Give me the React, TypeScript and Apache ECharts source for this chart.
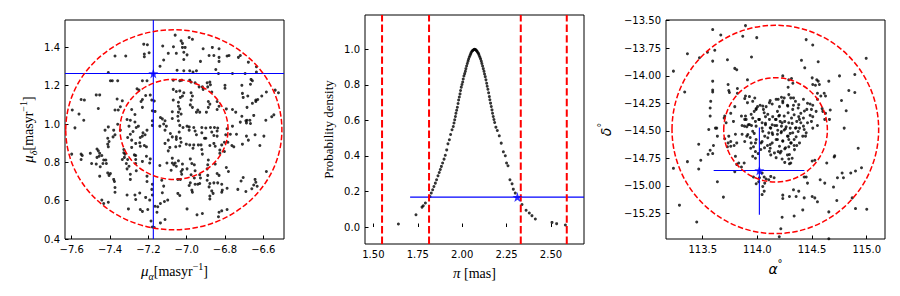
import React, { useEffect, useRef } from "react";
import * as echarts from "echarts";

// ---------- axis ranges & ticks ----------
const p1XRange = [-7.635, -6.492];
const p1YRange = [0.4, 1.543];
const p1XTicks = [-7.6, -7.4, -7.2, -7.0, -6.8, -6.6];
const p1YTicks = [0.4, 0.6, 0.8, 1.0, 1.2, 1.4];

const p2XRange = [1.453, 2.686];
const p2YRange = [-0.0955, 1.193];
const p2XTicks = [1.5, 1.75, 2.0, 2.25, 2.5];
const p2YTicks = [0.0, 0.2, 0.4, 0.6, 0.8, 1.0];

const p3XRange = [113.164, 115.167];
const p3YRange = [-15.481, -13.494];
const p3XTicks = [113.5, 114.0, 114.5, 115.0];
const p3YTicks = [-15.25, -15.0, -14.75, -14.5, -14.25, -14.0, -13.75, -13.5];

// ---------- panel 1: proper motion ----------
const p1Points = [
  [-7.224,1.417],[-7.205,1.414],[-7.221,1.365],[-7.221,1.351],[-7.196,1.372],[-7.374,1.355],[-7.318,1.355],[-7.125,1.407],[-7.096,1.369],[-7.12,1.334],[-7.139,1.302],[-7.069,1.403],[-7.409,1.269],[-7.398,1.226],[-7.388,1.226],[-7.36,1.226],[-7.231,1.226],[-7.207,1.226],[-7.214,1.149],[-7.231,1.128],[-7.19,1.151],[-7.259,1.184],[-7.249,1.177],[-7.182,1.125],[-7.169,1.12],[-7.472,1.152],[-7.454,1.152],[-7.551,1.128],[-7.534,1.125],[-7.363,1.131],[-7.336,1.121],[-7.346,1.09],[-7.461,1.081],[-7.597,1.073],[-7.374,1.073],[-7.357,1.073],[-7.562,1.052],[-7.537,1.02],[-7.409,0.985],[-7.36,0.999],[-7.238,1.118],[-7.231,1.087],[-7.179,1.069],[-7.165,1.066],[-7.287,1.076],[-7.27,1.05],[-7.294,1.02],[-7.311,1.024],[-7.301,0.989],[-7.27,1.011],[-7.252,0.989],[-7.263,0.982],[-7.137,1.034],[-7.127,1.027],[-7.113,1.017],[-7.12,1.0],[-7.14,0.989],[-7.106,0.989],[-7.179,1.017],[-7.179,0.993],[-7.075,1.064],[-7.075,1.029],[-7.07,1.125],[-7.07,1.181],[-7.07,1.229],[-7.583,0.98],
  [-7.06,1.464],[-7.029,1.434],[-7.022,1.421],[-7.008,1.4],[-7.022,1.4],[-6.987,1.452],[-6.97,1.442],[-7.015,1.375],[-6.998,1.361],[-7.054,1.369],[-7.015,1.337],[-6.914,1.393],[-6.866,1.4],[-6.831,1.393],[-6.883,1.358],[-6.858,1.358],[-6.831,1.348],[-6.831,1.327],[-6.928,1.327],[-6.789,1.355],[-6.779,1.358],[-6.73,1.348],[-6.72,1.358],[-6.678,1.323],[-6.636,1.299],[-6.636,1.271],[-7.05,1.281],[-7.015,1.278],[-6.984,1.278],[-6.949,1.278],[-6.967,1.271],[-6.848,1.285],[-6.834,1.264],[-6.761,1.264],[-6.695,1.264],[-7.036,1.226],[-7.026,1.229],[-6.984,1.229],[-6.977,1.219],[-6.956,1.215],[-6.893,1.215],[-6.879,1.219],[-6.876,1.205],[-6.89,1.194],[-6.935,1.194],[-6.918,1.194],[-6.914,1.181],[-7.054,1.17],[-7.036,1.173],[-7.015,1.163],[-7.022,1.146],[-7.033,1.139],[-6.977,1.163],[-6.97,1.146],[-6.869,1.167],[-6.8,1.202],[-6.8,1.187],[-6.712,1.202],[-6.667,1.208],[-6.664,1.233],[-6.657,1.226],[-6.709,1.16],[-6.705,1.139],[-6.681,1.146],[-6.639,1.125],[-6.629,1.128],[-6.608,1.146],[-6.584,1.167],[-6.538,1.177],[-6.521,1.163],[-7.043,1.114],[-7.043,1.093],[-7.036,1.079],[-7.043,1.062],[-7.029,1.052],[-7.046,1.041],[-6.977,1.125],[-6.981,1.1],[-6.97,1.087],[-6.942,1.073],[-6.949,1.062],[-6.932,1.062],[-6.887,1.118],[-6.879,1.104],[-6.887,1.087],[-6.841,1.118],[-6.831,1.093],[-6.841,1.076],[-6.897,1.062],[-6.793,1.079],[-6.761,1.076],[-6.744,1.062],[-6.685,1.087],[-6.657,1.108],[-6.639,1.118],[-6.712,1.041],[-6.685,1.02],[-6.691,1.017],[-6.67,1.02],[-6.65,1.045],[-6.587,1.02],[-6.556,1.038],[-6.545,1.048],[-7.043,1.017],[-7.036,0.993],[-6.998,0.989],[-6.987,0.985],[-7.019,0.982],[-6.963,0.982],[-6.921,0.982],[-6.9,0.979],[-6.876,0.982],[-6.855,0.982],[-6.838,0.979],[-6.789,0.975],[-6.761,0.989],[-6.72,1.01],[-6.688,1.006],[-6.667,1.003],
  [-7.6,0.843],[-7.551,0.843],[-7.545,0.836],[-7.551,0.815],[-7.503,0.847],[-7.468,0.87],[-7.461,0.86],[-7.454,0.847],[-7.443,0.836],[-7.457,0.832],[-7.468,0.826],[-7.496,0.794],[-7.472,0.791],[-7.451,0.777],[-7.454,0.728],[-7.433,0.812],[-7.422,0.812],[-7.437,0.794],[-7.419,0.794],[-7.412,0.926],[-7.405,0.909],[-7.412,0.895],[-7.409,0.881],[-7.381,0.968],[-7.374,0.944],[-7.384,0.933],[-7.412,0.745],[-7.398,0.742],[-7.405,0.732],[-7.381,0.711],[-7.377,0.7],[-7.374,0.669],[-7.374,0.644],[-7.336,0.815],[-7.325,0.826],[-7.308,0.815],[-7.315,0.794],[-7.301,0.78],[-7.311,0.766],[-7.328,0.85],[-7.322,0.843],[-7.328,0.867],[-7.287,0.878],[-7.273,0.839],[-7.308,0.93],[-7.294,0.947],[-7.28,0.961],[-7.287,0.916],[-7.266,0.899],[-7.242,0.93],[-7.231,0.937],[-7.217,0.944],[-7.228,0.954],[-7.245,0.902],[-7.242,0.884],[-7.221,0.888],[-7.21,0.881],[-7.21,0.832],[-7.19,0.818],[-7.193,0.797],[-7.231,0.805],[-7.263,0.756],[-7.294,0.738],[-7.294,0.711],[-7.207,0.728],[-7.207,0.7],[-7.179,0.686],[-7.182,0.659],[-7.311,0.63],[-7.27,0.63],[-7.245,0.64],[-7.266,0.606],[-7.179,0.63],[-7.214,0.617],[-7.304,0.557],[-7.242,0.554],[-7.231,0.544],[-7.203,0.554],[-7.165,0.571],[-7.151,0.568],[-7.155,0.54],[-7.137,0.585],[-7.116,0.596],[-7.099,0.603],[-7.193,0.603],[-7.186,0.494],[-7.169,0.46],[-7.179,0.463],[-7.137,0.484],[-7.113,0.502],[-7.443,0.603],[-7.433,0.585],[-7.409,0.592],[-7.426,0.968],[-7.346,0.968],[-7.207,0.968],[-7.113,0.968],[-7.096,0.916],[-7.085,0.951],[-7.113,0.899],[-7.096,0.86],[-7.103,0.797],[-7.075,0.797],[-7.067,0.787],[-7.081,0.759],[-7.075,0.822],[-7.075,0.933],[-7.088,0.878],[-7.14,0.784],[-7.13,0.707],[-7.12,0.676],[-7.127,0.641],[-7.266,0.836],[-7.266,0.815],[-7.266,0.794],
  [-7.054,0.933],[-7.054,0.92],[-7.033,0.926],[-7.029,0.905],[-7.057,0.881],[-7.036,0.885],[-7.039,0.958],[-6.987,0.968],[-6.956,0.964],[-6.949,0.944],[-6.921,0.954],[-6.9,0.926],[-6.907,0.926],[-6.858,0.94],[-6.841,0.937],[-6.869,0.958],[-6.841,0.964],[-7.002,0.895],[-6.984,0.891],[-6.963,0.891],[-6.939,0.891],[-6.925,0.891],[-6.967,0.874],[-6.921,0.867],[-6.918,0.843],[-6.858,0.899],[-6.851,0.884],[-6.879,0.888],[-6.827,0.864],[-6.827,0.847],[-6.803,0.857],[-6.817,0.891],[-6.803,0.905],[-6.796,0.944],[-6.772,0.947],[-6.74,0.947],[-6.688,0.937],[-6.785,0.905],[-6.764,0.888],[-6.754,0.881],[-6.709,0.895],[-6.678,0.916],[-6.643,0.944],[-6.618,0.888],[-6.597,0.937],[-7.06,0.797],[-7.054,0.78],[-7.043,0.808],[-7.022,0.791],[-7.022,0.763],[-7.029,0.752],[-7.026,0.738],[-7.033,0.711],[-7.046,0.711],[-6.998,0.766],[-6.981,0.818],[-6.973,0.794],[-6.96,0.787],[-6.956,0.756],[-6.977,0.735],[-6.96,0.718],[-6.932,0.735],[-6.928,0.718],[-6.981,0.693],[-6.987,0.679],[-6.973,0.655],[-6.97,0.644],[-7.046,0.638],[-7.036,0.627],[-6.932,0.69],[-6.956,0.686],[-6.942,0.686],[-6.887,0.812],[-6.89,0.787],[-6.893,0.766],[-6.851,0.791],[-6.89,0.732],[-6.879,0.69],[-6.883,0.672],[-6.893,0.707],[-6.858,0.693],[-6.862,0.638],[-6.879,0.624],[-6.879,0.609],[-6.869,0.651],[-6.841,0.742],[-6.831,0.732],[-6.838,0.693],[-6.817,0.686],[-6.814,0.655],[-6.817,0.644],[-6.789,0.665],[-6.793,0.773],[-6.782,0.752],[-6.733,0.659],[-6.691,0.648],[-6.716,0.703],[-6.705,0.721],[-6.65,0.682],[-6.639,0.696],[-6.632,0.675],[-6.643,0.711],[-6.66,0.662],[-6.584,0.752],[-6.998,0.557],[-6.946,0.526],[-6.918,0.533],[-6.831,0.54],[-6.817,0.547],[-6.789,0.554],[-6.834,0.516],
];
// rings: [centre x, centre y, radius x, radius y]
const p1Rings = [
  [-7.066, 0.972, 0.282, 0.261],
  [-7.067, 0.970, 0.564, 0.522],
];
const p1Star = [-7.174, 1.264];
// blue guide segments: [x1, y1, x2, y2]
const p1Guides = [
  [-7.174, 0.4, -7.174, 1.543],
  [-7.635, 1.264, -6.492, 1.264],
];

// ---------- panel 2: parallax ----------
const p2Points = [
  [1.641,0.017],[1.74,0.069],[1.774,0.112],[1.781,0.12],[1.793,0.135],[1.819,0.172],[1.826,0.191],[1.834,0.21],[1.841,0.228],[1.849,0.247],[1.856,0.266],[1.864,0.288],[1.871,0.307],[1.877,0.324],[1.883,0.341],[1.89,0.36],[1.898,0.382],[1.905,0.404],[1.913,0.434],[1.92,0.468],[1.928,0.491],[1.935,0.521],[1.943,0.547],[1.95,0.566],[1.954,0.585],[1.958,0.603],[1.962,0.622],[1.965,0.64],[1.969,0.657],[1.973,0.674],[1.977,0.695],[1.98,0.715],[1.984,0.732],[1.988,0.749],[1.991,0.768],[1.995,0.787],[1.999,0.802],[2.003,0.816],[2.006,0.833],[2.01,0.85],[2.014,0.863],[2.018,0.876],[2.021,0.891],[2.025,0.906],[2.029,0.92],[2.033,0.933],[2.036,0.944],[2.04,0.955],[2.044,0.965],[2.048,0.974],[2.051,0.982],[2.055,0.989],[2.059,0.993],[2.063,0.996],[2.067,0.999],[2.07,1.0],[2.074,0.999],[2.078,0.996],[2.081,0.992],[2.085,0.987],[2.089,0.981],[2.093,0.974],[2.096,0.965],[2.1,0.955],[2.104,0.945],[2.108,0.933],[2.111,0.92],[2.115,0.906],[2.119,0.891],[2.123,0.876],[2.126,0.861],[2.13,0.846],[2.134,0.828],[2.138,0.809],[2.141,0.792],[2.145,0.775],[2.149,0.755],[2.153,0.734],[2.156,0.716],[2.16,0.697],[2.164,0.678],[2.168,0.659],[2.171,0.64],[2.175,0.622],[2.179,0.605],[2.183,0.588],[2.19,0.562],[2.198,0.543],[2.209,0.513],[2.22,0.472],[2.232,0.423],[2.243,0.401],[2.25,0.36],[2.258,0.345],[2.269,0.266],[2.281,0.243],[2.288,0.213],[2.299,0.191],[2.337,0.127],[2.36,0.094],[2.378,0.079],[2.393,0.064],[2.412,0.045],[2.506,0.026],[2.532,0.019],[2.581,0.011],
];
const p2Bounds = [1.549, 1.8136, 2.33, 2.589];
const p2Star = [2.311, 0.1685];
const p2Guides = [[1.707, 0.1685, 2.686, 0.1685]];

// ---------- panel 3: position ----------
const p3Points = [
  [113.232,-13.958],[113.36,-13.8],[113.335,-14.147],[113.47,-13.837],[113.543,-13.787],[113.591,-13.581],[113.665,-13.63],[113.61,-13.769],[113.591,-13.867],[113.591,-14.049],[113.591,-14.129],[113.591,-14.147],[113.573,-14.232],[113.568,-14.293],[113.568,-14.366],[113.616,-14.475],[113.628,-14.475],[113.726,-13.855],[113.732,-14.079],[113.738,-14.134],[113.744,-14.152],[113.701,-14.366],[113.793,-13.933],[113.811,-13.946],[113.696,-14.384],[113.714,-14.426],[113.817,-14.116],[113.817,-14.159],[113.793,-14.28],[113.756,-14.341],[113.781,-14.414],[113.854,-14.366],[113.86,-14.451],[113.866,-13.641],[113.891,-13.545],[113.994,-13.654],[113.946,-13.83],[113.909,-14.037],[113.891,-14.183],[113.884,-14.207],[113.927,-14.189],[113.909,-14.244],[113.957,-14.232],[113.976,-14.202],[113.989,-14.298],[114.001,-14.28],[113.971,-14.323],[114.025,-14.268],[114.055,-14.305],[114.08,-14.28],[114.062,-14.335],[114.074,-14.371],[114.117,-14.225],[114.135,-14.256],[113.891,-14.366],[113.884,-14.396],[113.957,-14.384],[113.982,-14.414],[114.012,-14.396],[114.043,-14.426],[114.074,-14.444],[114.11,-14.396],[114.135,-14.444],[114.122,-14.475],[114.043,-14.475],[113.946,-14.451],[113.903,-14.463],[113.916,-14.444],
  [114.446,-13.672],[114.506,-13.721],[114.403,-13.86],[114.433,-13.928],[114.556,-13.873],[114.232,-14.001],[114.287,-14.037],[114.312,-14.025],[114.324,-14.068],[114.281,-14.104],[114.501,-14.019],[114.543,-14.037],[114.556,-14.049],[114.531,-14.086],[114.506,-14.079],[114.567,-14.079],[114.653,-14.049],[114.751,-14.001],[114.769,-14.225],[114.836,-14.134],[114.891,-14.152],[114.891,-13.988],[114.995,-13.842],[114.812,-14.317],[114.549,-14.159],[114.58,-14.183],[114.611,-14.159],[114.623,-14.183],[114.549,-14.214],[114.592,-14.298],[114.598,-14.323],[114.623,-14.341],[114.666,-14.311],[114.659,-14.396],[114.549,-14.451],[114.616,-14.396],[114.794,-14.475],
  [114.22,-14.195],[114.245,-14.201],[114.287,-14.171],[114.305,-14.201],[114.33,-14.201],[114.348,-14.232],[114.378,-14.262],[114.373,-14.293],[114.421,-14.214],[114.458,-14.25],[114.482,-14.256],[114.506,-14.268],[114.494,-14.305],[114.452,-14.305],[114.482,-14.359],[114.506,-14.371],[114.537,-14.323],[114.421,-14.384],[114.397,-14.341],[114.378,-14.371],[114.336,-14.353],[114.312,-14.384],[114.281,-14.335],[114.245,-14.366],[114.202,-14.28],[114.183,-14.323],[114.195,-14.366],[114.165,-14.396],[114.208,-14.414],[114.25,-14.414],[114.287,-14.426],[114.318,-14.432],[114.36,-14.414],[114.397,-14.426],[114.421,-14.457],[114.385,-14.475],[114.348,-14.475],[114.3,-14.475],[114.263,-14.463],[114.22,-14.457],[114.177,-14.451],[114.33,-14.268],[114.275,-14.268],[114.232,-14.244],[114.458,-14.426],[114.494,-14.414],[114.506,-14.475],[114.19,-14.214],
  [113.232,-14.84],[113.287,-15.174],[113.445,-15.327],[113.36,-14.779],[113.463,-14.846],[113.482,-14.767],[113.463,-14.621],[113.549,-14.713],[113.591,-14.706],[113.568,-14.676],[113.598,-14.633],[113.634,-14.548],[113.555,-14.487],[113.634,-14.962],[113.689,-15.101],[113.701,-14.572],[113.738,-14.548],[113.732,-14.609],[113.756,-14.597],[113.726,-14.645],[113.756,-14.639],[113.799,-14.53],[113.811,-14.609],[113.787,-14.633],[113.86,-14.53],[113.884,-14.597],[113.903,-14.548],[113.799,-14.731],[113.811,-14.804],[113.793,-14.871],[113.829,-14.792],[113.854,-14.828],[113.879,-14.792],[113.934,-14.56],[113.971,-14.523],[113.982,-14.609],[113.964,-14.645],[113.982,-14.688],[114.007,-14.706],[114.031,-14.669],[113.939,-14.657],[114.043,-14.597],[114.067,-14.548],[114.104,-14.518],[114.092,-14.633],[114.117,-14.657],[114.135,-14.609],[114.122,-14.718],[114.135,-14.518],[113.957,-14.731],[113.982,-14.749],[113.964,-14.919],[114.019,-14.925],[114.062,-14.919],[114.08,-14.937],[114.067,-14.974],[114.049,-15.005],[114.062,-15.047],[114.043,-15.078],[114.012,-14.962],[113.989,-14.98],[114.043,-14.882],[114.104,-14.943],[114.122,-14.913],[114.153,-14.925],
  [114.183,-14.53],[114.22,-14.505],[114.245,-14.493],[114.183,-14.578],[114.232,-14.59],[114.275,-14.548],[114.287,-14.578],[114.305,-14.609],[114.336,-14.633],[114.36,-14.633],[114.287,-14.645],[114.25,-14.663],[114.208,-14.7],[114.19,-14.688],[114.336,-14.578],[114.354,-14.554],[114.3,-14.523],[114.446,-14.518],[114.44,-14.548],[114.373,-14.505],[114.428,-14.487],[114.171,-14.743],[114.226,-14.755],[114.275,-14.718],[114.287,-14.755],[114.25,-14.786],[114.293,-14.798],[114.318,-14.749],[114.305,-14.792],[114.428,-14.919],[114.446,-14.919],[114.458,-14.974],[114.33,-15.035],[114.378,-15.047],[114.354,-15.096],[114.501,-14.773],[114.525,-14.767],[114.574,-14.943],[114.616,-14.974],[114.696,-15.01],[114.732,-14.925],[114.787,-14.925],[114.634,-14.792],[114.707,-14.725],[114.702,-14.737],[114.922,-14.657],[114.232,-15.083],[114.232,-15.114],[114.293,-15.096],[114.428,-15.108],[114.501,-15.096],[114.525,-15.108],[114.549,-15.144],[114.415,-15.217],[114.226,-15.284],[114.336,-15.272],[114.214,-15.388],[114.653,-15.235],[114.726,-15.132],[114.867,-15.108],[114.854,-14.882],[114.897,-14.864],[114.952,-14.834],[114.897,-15.205],[115.0,-15.211],[114.775,-14.882],[114.653,-15.479],[114.2,-15.46],
  [114.095,-14.35],[114.14,-14.371],[114.171,-14.396],[114.202,-14.359],[114.226,-14.426],[114.159,-14.451],[114.117,-14.472],[114.186,-14.494],[114.217,-14.517],[114.257,-14.481],[114.281,-14.548],[114.14,-14.533],[114.095,-14.563],[114.171,-14.578],[114.232,-14.594],[114.202,-14.64],[114.117,-14.624],[114.257,-14.654],[114.309,-14.609],[114.323,-14.517],[114.354,-14.472],[114.074,-14.432],[114.049,-14.503],[114.019,-14.396],[113.988,-14.457],[113.957,-14.503],[113.927,-14.442],[113.988,-14.578],[114.034,-14.609],[114.065,-14.654],[114.11,-14.685],[114.156,-14.7],[114.217,-14.685],[114.293,-14.715],[114.339,-14.67],[114.385,-14.609],[114.415,-14.548],[114.385,-14.396],[114.43,-14.32],[114.323,-14.305],[114.278,-14.275],[114.232,-14.229],[114.171,-14.214],[114.11,-14.244],[114.049,-14.275],[113.988,-14.305],[113.943,-14.35],[113.897,-14.396],[113.882,-14.457],[113.912,-14.533],[113.943,-14.609],
];
const p3Rings = [
  [114.166, -14.491, 0.474, 0.473],
  [114.164, -14.487, 0.945, 0.945],
];
const p3Star = [114.018, -14.86];
const p3Guides = [
  [113.6, -14.86, 114.43, -14.86],
  [114.018, -14.47, 114.018, -15.26],
];

// ---------- styling helpers ----------
const STAR = "path://M50,0 L61.8,35.4 L99,35.4 L69,57.3 L80.4,92.7 L50,70.8 L19.6,92.7 L31,57.3 L1,35.4 L38.2,35.4 Z";
const BLUE = "#0000ff";
const RED = "#ff0000";
const minus = (s: string) => s.replace("-", "\u2212");

function valueAxis(gridIndex: number, range: number[], ticks: number[], digits: number, extra: any) {
  return {
    type: "value",
    gridIndex,
    min: range[0],
    max: range[1],
    scale: true,
    splitLine: { show: false },
    axisLine: { show: false },
    axisTick: { show: true, inside: true, length: 3.5, customValues: ticks, lineStyle: { color: "#000", width: 1 } },
    axisLabel: {
      customValues: ticks,
      formatter: (v: number) => minus(v.toFixed(digits)),
      color: "#000",
      fontFamily: "DejaVu Sans",
      fontSize: 10,
      margin: 5,
    },
    nameLocation: "middle",
    ...extra,
  };
}

const serif = "Liberation Serif";
const mathRich = {
  i: { fontFamily: serif, fontStyle: "italic", fontSize: 15, lineHeight: 20, color: "#000" },
  s: { fontFamily: serif, fontStyle: "italic", fontSize: 10, lineHeight: 10, verticalAlign: "bottom", color: "#000" },
  r: { fontFamily: serif, fontSize: 14, lineHeight: 20, color: "#000" },
  p: { fontFamily: serif, fontSize: 10, lineHeight: 10, verticalAlign: "top", color: "#000" },
  a: { fontFamily: "DejaVu Sans", fontStyle: "italic", fontSize: 14, lineHeight: 20, color: "#000" },
  d: { fontFamily: "DejaVu Sans", fontSize: 10, lineHeight: 10, verticalAlign: "top", color: "#000" },
};

const ringRender = (params: any, api: any) => {
  const c = api.coord([api.value(0), api.value(1)]);
  const s = api.size([api.value(2), api.value(3)]);
  return {
    type: "ellipse",
    shape: { cx: c[0], cy: c[1], rx: s[0], ry: s[1] },
    style: { fill: "none", stroke: RED, lineWidth: 1.5, lineDash: [5.5, 2.4] },
  };
};

const makeSegRender = (stroke: string, lineWidth: number, lineDash: number[] | null) => (params: any, api: any) => {
  const a = api.coord([api.value(0), api.value(1)]);
  const b = api.coord([api.value(2), api.value(3)]);
  return {
    type: "line",
    shape: { x1: a[0], y1: a[1], x2: b[0], y2: b[1] },
    style: { stroke, lineWidth, lineDash: lineDash || undefined, fill: "none" },
  };
};

const guideSeries = (idx: number, data: number[][], stroke: string, width: number, dash: number[] | null, z: number) => ({
  type: "custom",
  xAxisIndex: idx,
  yAxisIndex: idx,
  data,
  encode: { x: [0, 2], y: [1, 3] },
  renderItem: makeSegRender(stroke, width, dash),
  clip: true,
  silent: true,
  z,
});

const dotStyle = { color: "#000" };

export default function App() {
  const ref = useRef<HTMLDivElement>(null);
  useEffect(() => {
    if (!ref.current) return;
    const chart = echarts.init(ref.current, null, { renderer: "svg" });
    const gridBase = { show: true, borderColor: "#000", borderWidth: 1, backgroundColor: "transparent", containLabel: false };
    chart.setOption({
      animation: false,
      backgroundColor: "#fff",
      grid: [
        { ...gridBase, left: 65, top: 20, width: 219, height: 219 },
        { ...gridBase, left: 365, top: 15, width: 219, height: 229 },
        { ...gridBase, left: 666, top: 20, width: 219, height: 219 },
      ],
      xAxis: [
        valueAxis(0, p1XRange, p1XTicks, 1, {
          name: "{i|\u03bc}{s|\u03b1}{r|[masyr}{p|\u22121}{r|]}",
          nameGap: 22,
          nameTextStyle: { rich: mathRich },
        }),
        valueAxis(1, p2XRange, p2XTicks, 2, {
          name: "{i|\u03c0}{r| [mas]}",
          nameGap: 19,
          nameTextStyle: { rich: mathRich },
        }),
        valueAxis(2, p3XRange, p3XTicks, 1, {
          name: "{a|\u03b1}{d|\u00b0}",
          nameGap: 18,
          nameTextStyle: { rich: mathRich },
        }),
      ],
      yAxis: [
        valueAxis(0, p1YRange, p1YTicks, 1, {
          name: "{i|\u03bc}{s|\u03b4}{r|[masyr}{p|\u22121}{r|]}",
          nameGap: 27,
          nameTextStyle: { rich: mathRich },
        }),
        valueAxis(1, p2YRange, p2YTicks, 1, {
          name: "Probability density",
          nameGap: 30,
          nameTextStyle: { fontFamily: serif, fontSize: 13, color: "#000" },
        }),
        valueAxis(2, p3YRange, p3YTicks, 2, {
          name: "{a|\u03b4}{d|\u00b0}",
          nameGap: 50,
          nameTextStyle: { rich: mathRich },
        }),
      ],
      series: [
        // panel 1
        { type: "scatter", xAxisIndex: 0, yAxisIndex: 0, data: p1Points, symbolSize: 3, itemStyle: dotStyle, silent: true, z: 2 },
        guideSeries(0, p1Guides, BLUE, 1.1, null, 3),
        { type: "custom", xAxisIndex: 0, yAxisIndex: 0, data: p1Rings, renderItem: ringRender, encode: { x: 0, y: 1 }, clip: false, silent: true, z: 4 },
        { type: "scatter", xAxisIndex: 0, yAxisIndex: 0, data: [p1Star], symbol: STAR, symbolSize: 10, itemStyle: { color: BLUE }, silent: true, z: 5 },
        // panel 2
        guideSeries(1, p2Bounds.map((b) => [b, p2YRange[0], b, p2YRange[1]]), RED, 2, [7.4, 3.2], 4),
        guideSeries(1, p2Guides, BLUE, 1.1, null, 3),
        { type: "scatter", xAxisIndex: 1, yAxisIndex: 1, data: p2Points, symbolSize: 3, itemStyle: dotStyle, silent: true, z: 2 },
        { type: "scatter", xAxisIndex: 1, yAxisIndex: 1, data: [p2Star], symbol: STAR, symbolSize: 10, itemStyle: { color: BLUE }, silent: true, z: 5 },
        // panel 3
        { type: "scatter", xAxisIndex: 2, yAxisIndex: 2, data: p3Points, symbolSize: 3, itemStyle: dotStyle, silent: true, z: 2 },
        guideSeries(2, p3Guides, BLUE, 1.1, null, 3),
        { type: "custom", xAxisIndex: 2, yAxisIndex: 2, data: p3Rings, renderItem: ringRender, encode: { x: 0, y: 1 }, clip: false, silent: true, z: 4 },
        { type: "scatter", xAxisIndex: 2, yAxisIndex: 2, data: [p3Star], symbol: STAR, symbolSize: 10, itemStyle: { color: BLUE }, silent: true, z: 5 },
      ],
    });
    return () => chart.dispose();
  }, []);
  return <div ref={ref} style={{ position: "fixed", left: 0, top: 0, width: 900, height: 296 }} />;
}
